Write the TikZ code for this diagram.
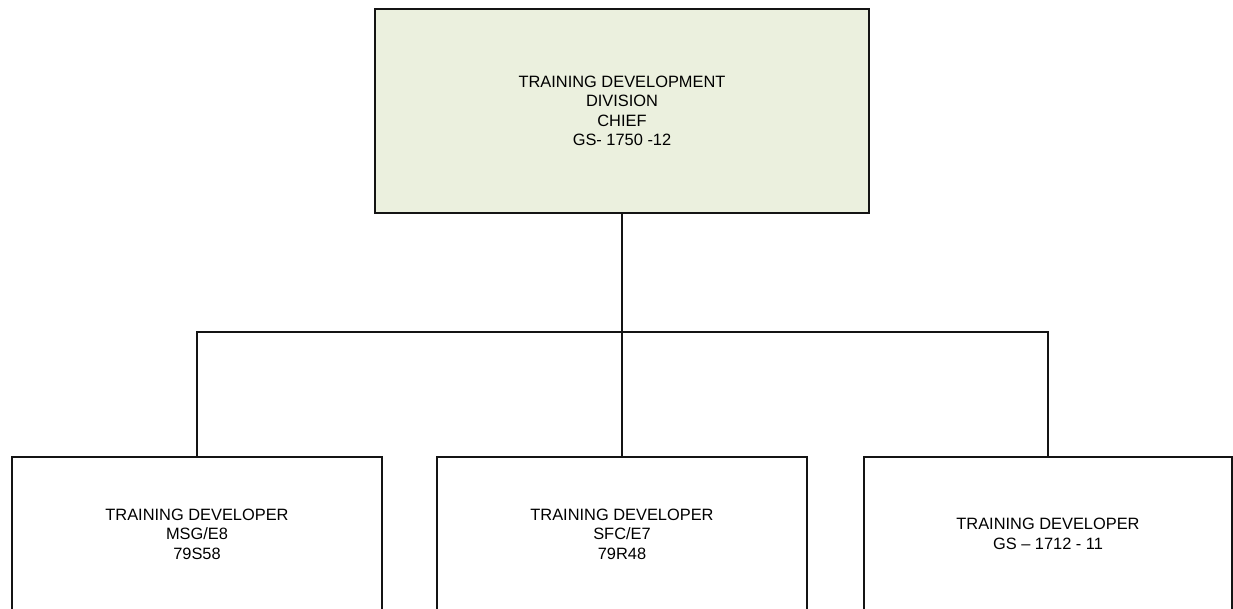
\documentclass[tikz,border=0pt]{standalone}
\usepackage{fontspec}
\setmainfont{Liberation Sans}
\definecolor{chieffill}{RGB}{235,240,222}
\definecolor{edge}{RGB}{20,20,20}
\tikzset{
  orgbox/.style={draw=edge, line width=1.1pt, rectangle, align=center, inner sep=0pt,
    font=\fontsize{16.4}{19.5}\selectfont, text=black},
  link/.style={draw=edge, line width=1.1pt}
}
\begin{document}
\begin{tikzpicture}[x=1pt,y=-1pt]
\useasboundingbox (0,0) rectangle (1233,608);
\fill[white] (0,0) rectangle (1233,608);
\node[orgbox, fill=chieffill, minimum width=494pt, minimum height=204pt] (chief) at (622,111)
  {TRAINING DEVELOPMENT\\DIVISION\\CHIEF\\GS- 1750 -12};
\node[orgbox, minimum width=370pt, minimum height=154pt] (left) at (197,534)
  {TRAINING DEVELOPER\\MSG/E8\\79S58};
\node[orgbox, minimum width=370pt, minimum height=154pt] (mid) at (622,534)
  {TRAINING DEVELOPER\\SFC/E7\\79R48};
\node[orgbox, minimum width=368pt, minimum height=154pt] (right) at (1048,534)
  {TRAINING DEVELOPER\\GS – 1712 - 11};
\coordinate (bus) at (622,332);
\draw[link] (chief.south) -- (chief.south |- bus);
\draw[link] (left.north) -- (left.north |- bus) -- (right.north |- bus) -- (right.north);
\draw[link] (mid.north |- bus) -- (mid.north);
\end{tikzpicture}
\end{document}
